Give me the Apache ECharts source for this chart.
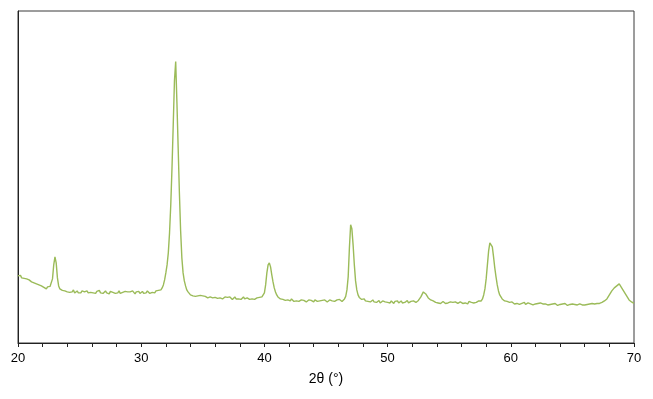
<!DOCTYPE html>
<html>
<head>
<meta charset="utf-8">
<script src="https://cdn.jsdelivr.net/npm/echarts@6/dist/echarts.min.js"></script>
<style>
  html, body { margin: 0; padding: 0; background: #fff; }
  #chart { width: 653px; height: 399px; }
</style>
</head>
<body>
<div id="chart"></div>
<script>
// scan settings (2θ, degrees)
const startAngle = 20;
const stepAngle = 0.1;
const xTicks = [20, 30, 40, 50, 60, 70];

// intensity (a.u.), one row per degree
const intensity = [
  67, 66, 67.5, 65, 66, 64.5, 66, 64, 65, 63,            // 20
  63.5, 61, 62, 60, 61.5, 59, 60, 58, 59.5, 57,          // 21
  57, 55.5, 56.5, 54, 56, 55, 56.5, 58, 64, 78,          // 22
  86, 80, 65, 57, 54, 55, 52.5, 54, 52, 53,              // 23
  51, 52.5, 50.5, 52, 51, 53, 50, 51.5, 52, 50,          // 24
  51.5, 50, 52, 50.5, 51, 49.5, 52, 50, 51, 50.5,        // 25
  52, 50, 51, 49.5, 51.5, 50, 52.5, 50, 51, 49.5,        // 26
  50.5, 52, 50, 51, 49, 51.5, 50, 50.5, 52, 49.5,        // 27
  51, 50, 52, 49.5, 51, 50.5, 49.5, 51.5, 50, 51,        // 28
  49.5, 51, 50, 52, 50.5, 49, 51, 50, 51.5, 49.5,        // 29
  50.5, 51.5, 49.5, 51, 50, 52, 50.5, 49.5, 51, 50.5,    // 30
  51.5, 50, 52, 51, 52.5, 52, 53, 55, 58, 63,            // 31
  70, 78, 90, 110, 138, 175, 218, 262, 281, 240,         // 32
  195, 150, 112, 85, 70, 62, 57, 53, 51, 50,             // 33
  48, 49.5, 47, 48.5, 46.5, 48, 47, 46, 47.5, 46,        // 34
  47, 45.5, 46.5, 47.5, 45, 46.5, 46, 47, 45, 46,        // 35
  45.5, 47, 44.5, 46, 45, 46.5, 44, 45.5, 46, 44.5,      // 36
  45.5, 44, 46, 45, 43.5, 45, 46, 44, 45.5, 44,          // 37
  45, 43.5, 44.5, 46, 44, 43, 45, 44.5, 43.5, 45,        // 38
  44, 45.5, 43.5, 44.5, 45, 44, 45.5, 44.5, 46, 46.5,    // 39
  50, 58, 70, 78, 80, 76, 68, 61, 55, 51,                // 40
  48, 46, 45, 44, 45.5, 43.5, 44, 42.5, 44, 43,          // 41
  43.5, 42, 44, 42.5, 41.5, 43, 42, 43.5, 41.5, 42.5,    // 42
  43, 41.5, 42.5, 43.5, 41, 42, 43, 41.5, 42.5, 42,      // 43
  41, 43, 42, 41.5, 43, 42, 40.5, 42.5, 41.5, 43,        // 44
  42, 41, 42.5, 43, 41.5, 42, 43.5, 41.5, 42.5, 43,      // 45
  42, 43.5, 42.5, 41.5, 43, 44, 46.5, 53, 66, 95,        // 46
  118, 114, 98, 78, 62, 53, 48, 45.5, 44, 43.5,          // 47
  42.5, 44, 42, 43, 41.5, 42.5, 41, 42, 43, 41,          // 48
  42, 40.5, 41.5, 42.5, 40, 41.5, 42, 40.5, 41, 42,      // 49
  40.5, 41.5, 40, 42, 41, 39.5, 41.5, 40.5, 42, 40,      // 50
  41, 42, 40, 41.5, 40.5, 41, 42.5, 40, 41, 41.5,        // 51
  40.5, 42, 41, 40.5, 42, 42.5, 44, 46, 48.5, 51,        // 52
  51.5, 49, 47, 45, 44, 43, 42.5, 42, 41, 40.5,          // 53
  41.5, 40, 41, 39.5, 40.5, 41.5, 40, 39.5, 41, 40,      // 54
  39.5, 41, 40, 40.5, 39, 41, 40.5, 39.5, 40, 41,        // 55
  40, 39.5, 41, 40, 40.5, 39, 41.5, 40, 40.5, 41,        // 56
  40, 41.5, 40.5, 41, 42, 41.5, 42, 44, 48, 54,          // 57
  64, 78, 92, 100, 101, 96, 86, 75, 66, 58,              // 58
  52, 48, 46, 44, 43, 42, 41, 41.5, 40, 40.5,            // 59
  39.5, 41, 40, 39, 40.5, 39.5, 40, 38.5, 40, 39.5,      // 60
  39, 40.5, 38.5, 39.5, 40, 38.5, 39, 40, 38, 39.5,      // 61
  39, 38, 39.5, 38.5, 40, 38.5, 39, 37.5, 39, 38.5,      // 62
  38, 39.5, 38.5, 37.5, 39, 38, 39.5, 38.5, 37.5, 39,    // 63
  38.5, 37.5, 39, 38, 39.5, 38, 37.5, 39, 38.5, 38,      // 64
  39, 37.5, 38.5, 39, 38, 37.5, 39, 38.5, 38, 39.5,      // 65
  38, 39, 38.5, 37.5, 39, 38.5, 39.5, 38, 39, 38.5,      // 66
  39.5, 38.5, 39.5, 40, 40.5, 41, 42, 43, 44, 46,        // 67
  48, 50, 52, 53, 55, 56, 57, 58.5, 59, 57,              // 68
  55, 53, 51, 49, 47, 45, 43, 42, 41, 40,                // 69
  39.5                                                   // 70
];

const chart = echarts.init(document.getElementById('chart'));
const points = intensity.map((v, i) => [+(startAngle + i * stepAngle).toFixed(1), v]);

chart.setOption({
  animation: false,
  grid: {
    left: 18, right: 19, top: 11, bottom: 56,
    show: true,
    borderColor: '#3a3a3a',
    borderWidth: 1
  },
  xAxis: {
    type: 'value',
    min: xTicks[0],
    max: xTicks[xTicks.length - 1],
    interval: 10,
    name: '2θ (°)',
    nameLocation: 'middle',
    nameGap: 29,
    nameTextStyle: { color: '#000', fontSize: 14, fontFamily: 'Liberation Sans, Arial, sans-serif' },
    axisLine: { show: true, lineStyle: { color: '#222', width: 1 } },
    axisTick: { show: true, inside: false, length: 4, lineStyle: { color: '#222' } },
    minorTick: { show: true, splitNumber: 5, length: 4, lineStyle: { color: '#222' } },
    axisLabel: { color: '#000', fontSize: 13, margin: 9, fontFamily: 'Liberation Sans, Arial, sans-serif' },
    splitLine: { show: false }
  },
  yAxis: {
    type: 'value',
    min: 0,
    max: 331.5,
    axisLine: { show: true, lineStyle: { color: '#222', width: 1 } },
    axisTick: { show: false },
    axisLabel: { show: false },
    splitLine: { show: false }
  },
  series: [{
    type: 'line',
    data: points,
    showSymbol: false,
    symbol: 'none',
    lineStyle: { color: '#9BBB59', width: 1.4 },
    z: 3
  }]
});
</script>
</body>
</html>
